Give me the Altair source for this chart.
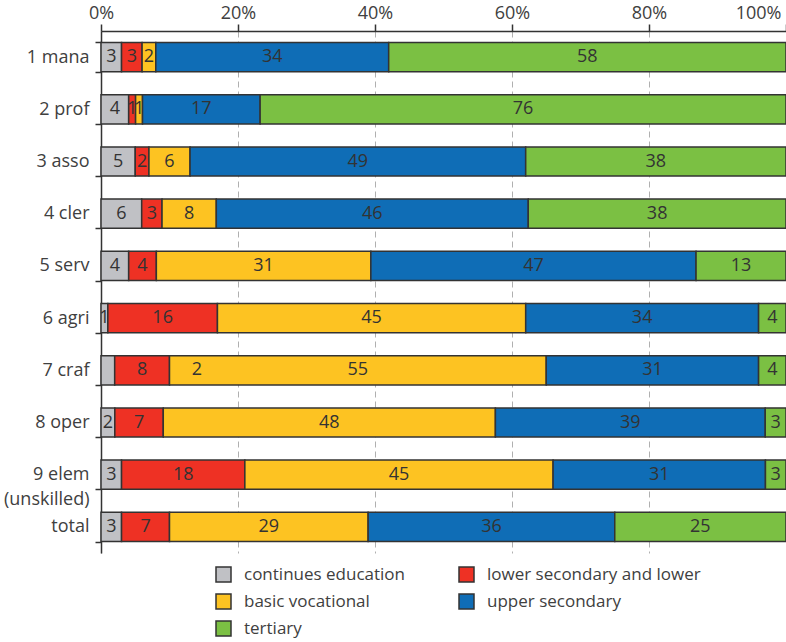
import altair as alt
import pandas as pd

# Occupation groups (rows) and education levels (stack segments)
occupations = ["1 mana", "2 prof", "3 asso", "4 cler", "5 serv",
               "6 agri", "7 craf", "8 oper", "9 elem", "total"]
levels = ["continues education", "lower secondary and lower",
          "basic vocational", "upper secondary", "tertiary"]
level_colors = ["#c0c1c5", "#ee3124", "#fdc322", "#0f6db6", "#7bc043"]

# Shares in percent, one list per education level
continues = [3, 4, 5, 6, 4, 1, 2, 2, 3, 3]
lower_sec = [3, 1, 2, 3, 4, 16, 8, 7, 18, 7]
basic_voc = [2, 1, 6, 8, 31, 45, 55, 48, 45, 29]
upper_sec = [34, 17, 49, 46, 47, 34, 31, 39, 31, 36]
tertiary = [58, 76, 38, 38, 13, 4, 4, 3, 3, 25]

# Printed segment labels ("" = not printed)
continues_lbl = ["3", "4", "5", "6", "4", "1", "", "2", "3", "3"]

# Loose value note printed inside the craft row
note_rows = ["7 craf"]
note_share = [0.14]
note_text = ["2"]

series = [continues, lower_sec, basic_voc, upper_sec, tertiary]
records = []
for k, (lvl, vals) in enumerate(zip(levels, series)):
    for i, occ in enumerate(occupations):
        lbl = continues_lbl[i] if k == 0 else str(vals[i])
        records.append({"occupation": occ, "level": lvl, "value": vals[i],
                        "order": k, "label": lbl})
df = pd.DataFrame(records)
notes = pd.DataFrame({"occupation": note_rows, "share": note_share, "text": note_text})

FONT = "Open Sans"
INK = "#333333"
LABEL = "#404040"

y_enc = alt.Y(
    "occupation:N", sort=occupations, title=None,
    scale=alt.Scale(paddingInner=0.44, paddingOuter=0.22),
    axis=alt.Axis(
        orient="left", tickBand="extent", tickSize=6, tickColor=INK, tickWidth=1.5,
        domainColor=INK, domainWidth=1.5, grid=False,
        labelFont=FONT, labelFontSize=18, labelColor=LABEL, labelPadding=6,
        labelLineHeight=25,
        labelExpr="datum.value == '9 elem' ? ['9 elem', '(unskilled)'] : datum.label",
    ),
)

x_scale = alt.Scale(domain=[0, 1], nice=False)
x_axis = alt.Axis(
    orient="top", format=".0%", values=[0, 0.2, 0.4, 0.6, 0.8, 1], title=None,
    tickSize=7, tickColor=INK, tickWidth=1.5, domainColor=INK, domainWidth=1.5,
    labelFont=FONT, labelFontSize=18, labelColor=LABEL, labelPadding=2,
    labelFlush=False,
    labelAlign={"condition": {"test": "datum.value == 1", "value": "right"}, "value": "center"},
    labelOffset={"condition": {"test": "datum.value == 1", "value": -5}, "value": 0},
    grid=True, gridColor="#b0b0b0", gridDash=[6, 4], gridWidth=1,
)

base = alt.Chart(df).transform_stack(
    stack="value", groupby=["occupation"], as_=["x0", "x1"],
    offset="normalize", sort=[alt.SortField("order", order="ascending")],
).transform_calculate(mid="(datum.x0 + datum.x1) / 2")

bars = base.mark_bar(stroke=INK, strokeWidth=1.5).encode(
    y=y_enc,
    x=alt.X("x0:Q", scale=x_scale, axis=x_axis),
    x2="x1:Q",
    color=alt.Color(
        "level:N",
        scale=alt.Scale(domain=levels, range=level_colors),
        legend=alt.Legend(
            title=None, orient="none", legendX=114, legendY=535, columns=2,
            direction="horizontal",
            symbolType="square", symbolSize=225, symbolStrokeColor=INK,
            symbolStrokeWidth=1.5, symbolOpacity=1,
            labelFont=FONT, labelFontSize=17, labelColor=LABEL, labelOffset=12,
            labelLimit=400, columnPadding=50, rowPadding=6, padding=0,
        ),
    ),
    order=alt.Order("order:Q"),
)

labels = base.mark_text(font=FONT, fontSize=18, color=INK, baseline="middle").encode(
    y=alt.Y("occupation:N", sort=occupations),
    x=alt.X("mid:Q", scale=x_scale),
    text="label:N",
)

note = alt.Chart(notes).mark_text(font=FONT, fontSize=18, color=INK, baseline="middle").encode(
    y=alt.Y("occupation:N", sort=occupations),
    x=alt.X("share:Q", scale=x_scale),
    text="text:N",
)

chart = alt.layer(bars, labels, note).properties(
    width=685, height=522,
    padding={"left": 101, "top": 31, "right": 0, "bottom": 89},
    autosize=alt.AutoSizeParams(type="none"),
).configure_view(stroke=None)

chart.save("out.html", embed_options={"renderer": "svg", "actions": False})
